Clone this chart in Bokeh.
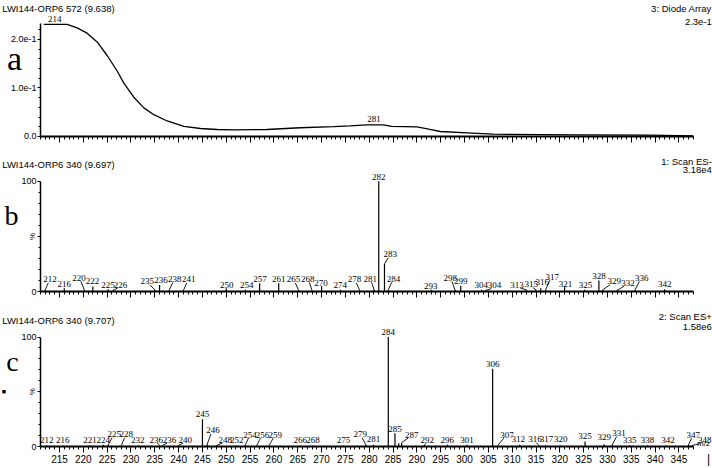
from bokeh.plotting import figure
from bokeh.layouts import column
from bokeh.models import (ColumnDataSource, LabelSet, Label, FixedTicker,
                          SingleIntervalTicker, Range1d)
from bokeh.embed import file_html
from bokeh.resources import INLINE

FONT = "Liberation Sans"
SERIF = "Liberation Serif"

# ---------------- data ----------------
# panel a: diode array UV spectrum (nm, absorbance)
uv_nm = [211.7, 216.6, 218.7, 220.8, 222.9, 225.0, 227.1, 228.5, 230.6, 232.7,
         234.8, 237.6, 241.1, 244.6, 248.1, 251.5, 258.5, 265.5, 272.5, 276.0,
         279.5, 283.0, 284.7, 290.0, 292.5, 294.9, 300.5, 306.0, 323.5, 338.9, 348.0]
uv_abs = [0.231, 0.231, 0.224, 0.213, 0.195, 0.167, 0.135, 0.110, 0.081, 0.059,
          0.045, 0.032, 0.021, 0.0165, 0.0144, 0.0138, 0.0144, 0.018, 0.0205, 0.022,
          0.024, 0.024, 0.021, 0.020, 0.015, 0.0103, 0.0076, 0.0048, 0.0034, 0.0027, 0.0014]
uv_peak_nm = [214, 281]
uv_peak_abs = [0.2357, 0.0289]
uv_peak_lab = ["214", "281"]

# panel b: Scan ES-  (m/z, relative intensity %)
b_mz = [212.0, 216.0, 220.2, 222.0, 225.2, 226.2, 235.0, 236.0, 238.0, 241.0,
        250.0, 254.0, 257.0, 261.0, 265.2, 268.0, 270.0, 274.0, 278.0, 281.0,
        282.0, 283.2, 284.0, 293.0, 298.0, 299.2, 303.6, 304.4, 313.0, 315.0,
        316.0, 317.0, 321.0, 325.2, 328.2, 329.0, 332.0, 335.8, 342.0]
b_int = [1.5, 3, 1.5, 4.5, 2, 1, 1.5, 6, 1, 1,
         3, 1.5, 7.5, 7.5, 1, 1, 5, 1.5, 1, 2,
         100, 25, 1.5, 1.5, 1.5, 5, 1.5, 1, 1.5, 1.5,
         3, 1.5, 4, 1.5, 10, 1.5, 1, 1.5, 2]
b_lab = ["212", "216", "220", "222", "225", "226", "235", "236", "238", "241",
         "250", "254", "257", "261", "265", "268", "270", "274", "278", "281",
         "282", "283", "284", "293", "298", "299", "304", "304", "313", "315",
         "316", "317", "321", "325", "328", "329", "332", "336", "342"]
b_label_mz = [213.0, 216.0, 219.1, 221.9, 225.2, 227.8, 233.4, 236.3, 239.2, 242.1,
              250.1, 254.3, 257.1, 261.0, 264.1, 267.1, 269.9, 273.9, 276.9, 280.2,
              282.0, 284.4, 285.1, 292.9, 297.0, 299.2, 303.5, 306.3, 311.0, 314.0,
              316.3, 318.4, 321.2, 325.4, 328.2, 331.4, 334.3, 337.2, 342.0]
b_label_pct = [8.2, 4.5, 9.7, 6.6, 3.6, 3.6, 6.6, 7.5, 8.8, 8.2,
               3.6, 3.0, 8.5, 8.5, 8.2, 8.8, 5.2, 3.0, 8.2, 8.8,
               101.5, 31, 8.8, 2.5, 9.7, 6.6, 3.0, 3.0, 3.6, 4.0,
               5.5, 10.6, 4.5, 3.0, 11.2, 6.6, 5.2, 9.7, 4.5]

# panel c: Scan ES+  (m/z, relative intensity %)
c_mz = [212.3, 215.7, 221.4, 224.2, 225.2, 228.0, 231.6, 236.0, 236.6, 240.0,
        245.0, 246.0, 248.0, 252.0, 254.0, 256.4, 259.0, 265.5, 268.2, 274.6,
        279.3, 280.9, 284.0, 285.4, 286.2, 286.8, 291.6, 296.4, 300.5, 305.9,
        307.0, 311.6, 315.6, 317.0, 320.2, 325.3, 329.3, 331.0, 334.7, 338.4,
        342.2, 347.0, 347.8]
c_int = [1, 1, 1, 1.5, 1.5, 1, 1, 1, 1, 1,
         25, 2, 1, 1, 1.5, 1, 1, 1, 1, 1,
         1.5, 1.5, 100, 12, 3, 3.5, 1.5, 1.5, 1.5, 71,
         1, 1.5, 1, 1, 1, 4.5, 2, 1.5, 1, 1,
         1, 1.5, 1]
c_lab = ["212", "216", "221", "224", "225", "228", "232", "236", "236", "240",
         "245", "246", "248", "252", "254", "256", "259", "266", "268", "275",
         "279", "281", "284", "285", "", "287", "292", "296", "301", "306",
         "307", "312", "316", "317", "320", "325", "329", "331", "335", "338",
         "342", "347", "348"]
c_label_mz = [212.3, 215.7, 221.4, 224.2, 226.5, 229.0, 231.4, 235.3, 238.1, 241.4,
              245.0, 247.2, 249.8, 252.2, 255.0, 257.6, 260.3, 265.5, 268.2, 274.6,
              278.1, 280.9, 284.0, 285.4, 286.2, 288.9, 292.2, 296.4, 300.5, 305.9,
              308.9, 311.3, 314.8, 317.2, 320.2, 325.3, 329.3, 332.4, 334.7, 338.4,
              342.7, 348.0, 350.4]
c_label_pct = [3.5, 3.5, 3.5, 3.5, 8.5, 8.5, 3.0, 3.5, 3.5, 3.5,
               26.5, 12, 3.5, 3.5, 8, 8, 8, 3, 3, 3.5,
               8.5, 4, 101.5, 13.5, 0, 8, 3.5, 3.5, 3.5, 73,
               8, 4, 4, 4, 4, 6.5, 5.5, 9.5, 3.5, 3.5,
               3.5, 8, 3.0]

x_lo, x_axis_hi = 211, 348
x_view = (202.618, 352.04)
W = 712


def make_fig(h, yview, show_labels):
    p = figure(width=W, height=h, x_range=Range1d(*x_view), y_range=Range1d(*yview),
               output_backend="svg", toolbar_location=None, title=None,
               min_border=0)
    p.grid.visible = False
    p.outline_line_color = None
    xa = p.xaxis[0]
    xa.fixed_location = 0
    xa.ticker = SingleIntervalTicker(interval=5, num_minor_ticks=5)
    xa.bounds = (x_lo, x_axis_hi)
    xa.axis_line_width = 2
    xa.axis_line_color = "black"
    xa.major_tick_line_color = "black"
    xa.minor_tick_line_color = "black"
    xa.major_tick_out, xa.major_tick_in = 6, 0
    xa.minor_tick_out, xa.minor_tick_in = 3, 0
    xa.major_label_text_font = FONT
    xa.major_label_text_color = "black"
    xa.major_label_text_font_size = "10px"
    xa.major_label_standoff = 2
    if not show_labels:
        xa.major_label_overrides = {v: "" for v in range(205, 355, 5)}
    ya = p.yaxis[0]
    ya.fixed_location = x_lo
    ya.axis_line_color = "black"
    ya.axis_line_width = 1.5
    ya.major_tick_line_color = "black"
    ya.minor_tick_line_color = "black"
    ya.major_tick_out, ya.major_tick_in = 3, 0
    ya.minor_tick_out, ya.minor_tick_in = 2, 0
    ya.major_label_text_font = FONT
    ya.major_label_text_font_size = "9px"
    ya.major_label_text_color = "black"
    ya.major_label_standoff = 1
    return p


def lab(p, x, y, text, size="9.5px", align="left", baseline="middle", font=FONT, angle=0):
    p.add_layout(Label(x=x, y=y, text=text, text_font=font, text_font_size=size,
                       text_align=align, text_baseline=baseline, text_color="black",
                       angle=angle))


def peaks(p, mz, inten, labels, lmz, lpct):
    src = ColumnDataSource(dict(mz=mz, inten=inten, zero=[0] * len(mz),
                                lab=labels, lmz=lmz, lpct=lpct))
    p.segment(x0="mz", y0="zero", x1="mz", y1="inten", source=src,
              line_color="black", line_width=1.2)
    lx0, ly0, lx1, ly1 = [], [], [], []
    for m, i, x, y, t in zip(mz, inten, lmz, lpct, labels):
        if t and abs(x - m) > 0.5:
            lx0.append(m)
            ly0.append(i)
            lx1.append(x + (m - x) * 0.35)
            ly1.append(y - 0.4)
    p.segment(x0=lx0, y0=ly0, x1=lx1, y1=ly1, line_color="black", line_width=0.9)
    p.add_layout(LabelSet(x="lmz", y="lpct", text="lab", source=src,
                          text_font=FONT, text_font_size="9px", text_color="black",
                          text_align="center", text_baseline="alphabetic"))


# ---------------- panel a ----------------
pa = make_fig(150, (-0.02887, 0.2804), False)
pa.yaxis[0].ticker = FixedTicker(ticks=[0, 0.1, 0.2],
                                 minor_ticks=[0.02, 0.04, 0.06, 0.08, 0.12, 0.14, 0.16, 0.18, 0.22])
pa.yaxis[0].bounds = (0, 0.233)
pa.yaxis[0].major_label_overrides = {0: "0.0", 0.1: "1.0e-1", 0.2: "2.0e-1"}
pa.line(uv_nm, uv_abs, line_color="black", line_width=1.3)
pa.add_layout(LabelSet(x="x", y="y", text="t",
                       source=ColumnDataSource(dict(x=uv_peak_nm, y=uv_peak_abs, t=uv_peak_lab)),
                       text_font=FONT, text_font_size="9px", text_color="black",
                       text_align="center", text_baseline="alphabetic"))
lab(pa, 203.0, 0.2649, "LWI144-ORP6 572 (9.638)")
lab(pa, 351.9, 0.2633, "3: Diode Array", align="right")
lab(pa, 351.9, 0.2357, "2.3e-1", align="right")
lab(pa, 205.56, 0.1598, "a", size="34px", align="center", font=SERIF)

# ---------------- panel b ----------------
pb = make_fig(155, (-12.69, 127.83), False)
pb.yaxis[0].ticker = FixedTicker(ticks=[0, 50, 100],
                                 minor_ticks=[10, 20, 30, 40, 60, 70, 80, 90])
pb.yaxis[0].bounds = (0, 100)
pb.yaxis[0].major_label_overrides = {0: "0", 50: "", 100: "100"}
peaks(pb, b_mz, b_int, b_lab, b_label_mz, b_label_pct)
lab(pb, 203.0, 115.1, "LWI144-ORP6 340 (9.697)")
lab(pb, 351.9, 118.3, "1: Scan ES-", align="right")
lab(pb, 351.9, 110.6, "3.18e4", align="right")
lab(pb, 204.93, 68.9, "b", size="28px", align="center", font=SERIF)
lab(pb, 209.33, 50, "%", size="8px", align="center", angle=1.5708)

# ---------------- panel c ----------------
pc = make_fig(163, (-20.09, 128.77), True)
pc.yaxis[0].ticker = FixedTicker(ticks=[0, 50, 100],
                                 minor_ticks=[10, 20, 30, 40, 60, 70, 80, 90])
pc.yaxis[0].bounds = (0, 100)
pc.yaxis[0].major_label_overrides = {0: "0", 50: "", 100: "100"}
peaks(pc, c_mz, c_int, c_lab, c_label_mz, c_label_pct)
lab(pc, 203.0, 115.5, "LWI144-ORP6 340 (9.707)")
lab(pc, 351.9, 118.3, "2: Scan ES+", align="right")
lab(pc, 351.9, 109.1, "1.58e6", align="right")
lab(pc, 205.14, 77.6, "c", size="28px", align="center", font=SERIF)
lab(pc, 203.35, 49.8, "\u25a0", size="7px", align="center")
lab(pc, 209.33, 50, "%", size="8px", align="center", angle=1.5708)
lab(pc, 350.15, 2.3, "m/z", size="8px", align="center")
lab(pc, 351.2, -11.4, "|", size="12px", align="center")

layout = column(pa, pb, pc, spacing=0)
open("out.html", "w").write(file_html(layout, INLINE))
